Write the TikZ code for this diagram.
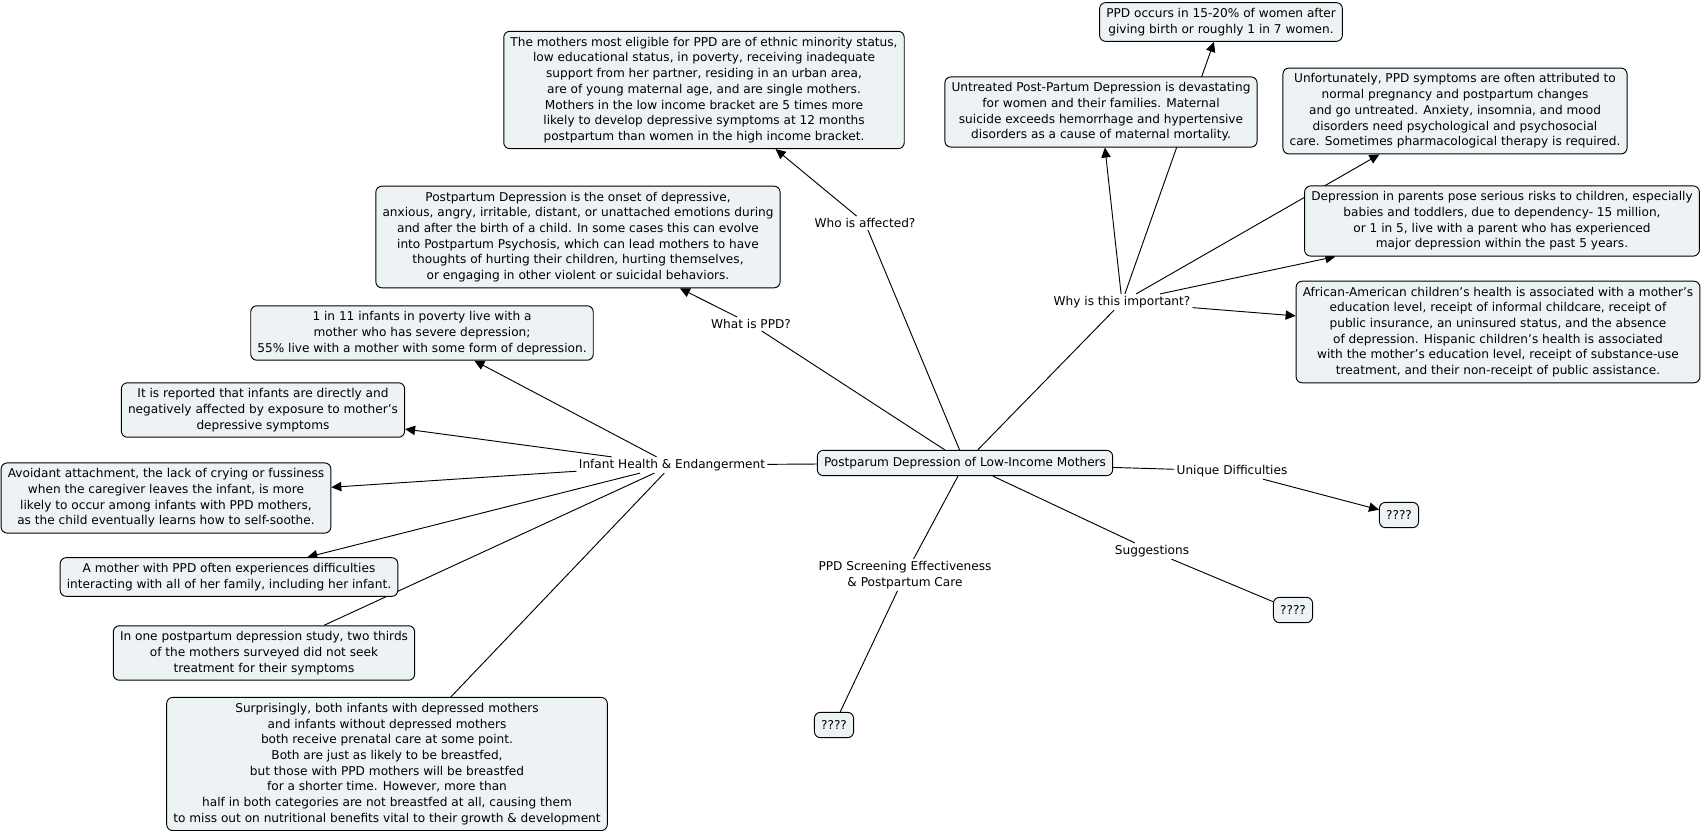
\documentclass[tikz,border=0pt]{standalone}
\usepackage{fontspec}
\setmainfont{DejaVu Sans}
\usepackage{xcolor}
\usetikzlibrary{arrows.meta,backgrounds}
\definecolor{cmapfill}{HTML}{EDF3F5}
\newcommand{\cmapfont}{\fontsize{9.1}{11.8}\selectfont}
\tikzset{
  concept/.style ={draw, rounded corners=4.5pt, fill=cmapfill, align=center, inner xsep=5pt, inner ysep=4.2pt, minimum height=19pt, font=\cmapfont, line width=0.7pt},
  linkph/.style  ={align=center, inner sep=1.5pt, font=\cmapfont},
  arr/.style     ={-{Triangle[length=7.5pt,width=7pt]}, line width=0.7pt},
  ln/.style      ={line width=0.7pt},
}
\begin{document}
\begin{tikzpicture}[x=0.75pt, y=-0.75pt]
  \useasboundingbox (0,0) rectangle (1704,831);
  \node[concept] (cent) at (965,463) {Postparum Depression of Low-Income Mothers};
  \node[concept] (elig) at (704,90) {The mothers most eligible for PPD are of ethnic minority status,\\low educational status, in poverty, receiving inadequate\\support from her partner, residing in an urban area,\\are of young maternal age, and are single mothers.\\Mothers in the low income bracket are 5 times more\\likely to develop depressive symptoms at 12 months\\postpartum than women in the high income bracket.};
  \node[concept] (defn) at (578,237) {Postpartum Depression is the onset of depressive,\\anxious, angry, irritable, distant, or unattached emotions during\\and after the birth of a child. In some cases this can evolve\\into Postpartum Psychosis, which can lead mothers to have\\thoughts of hurting their children, hurting themselves,\\or engaging in other violent or suicidal behaviors.};
  \node[concept] (occurs) at (1221,22) {PPD occurs in 15-20\% of women after\\giving birth or roughly 1 in 7 women.};
  \node[concept] (untreated) at (1101,112) {Untreated Post-Partum Depression is devastating\\for women and their families. Maternal\\suicide exceeds hemorrhage and hypertensive\\disorders as a cause of maternal mortality.};
  \node[concept] (unfort) at (1455,111) {Unfortunately, PPD symptoms are often attributed to\\normal pregnancy and postpartum changes\\and go untreated. Anxiety, insomnia, and mood\\disorders need psychological and psychosocial\\care. Sometimes pharmacological therapy is required.};
  \node[concept] (parents) at (1502,221) {Depression in parents pose serious risks to children, especially\\babies and toddlers, due to dependency- 15 million,\\or 1 in 5, live with a parent who has experienced\\major depression within the past 5 years.};
  \node[concept] (african) at (1498,332) {African-American children’s health is associated with a mother’s\\education level, receipt of informal childcare, receipt of\\public insurance, an uninsured status, and the absence\\of depression.  Hispanic children’s health is associated\\with the mother’s education level, receipt of substance-use\\treatment, and their non-receipt of public assistance.};
  \node[concept] (oneeleven) at (422,333) {1 in 11 infants in poverty live with a\\mother who has severe depression;\\55\% live with a mother with some form of depression.};
  \node[concept] (reported) at (263,410) {It is reported that infants are directly and\\negatively affected by exposure to mother’s\\depressive symptoms};
  \node[concept] (avoidant) at (166,498) {Avoidant attachment, the lack of crying or fussiness\\when the caregiver leaves the infant, is more\\likely to occur among infants with PPD mothers,\\as the child eventually learns how to self-soothe.};
  \node[concept] (family) at (229,577) {A mother with PPD often experiences difficulties\\interacting with all of her family, including her infant.};
  \node[concept] (study) at (264,653) {In one postpartum depression study, two thirds\\of the mothers surveyed did not seek\\treatment for their symptoms};
  \node[concept] (surpr) at (387,764) {Surprisingly, both infants with depressed mothers\\and infants without depressed mothers\\both receive prenatal care at some point.\\Both are just as likely to be breastfed,\\but those with PPD mothers will be breastfed\\for a shorter time. However, more than\\half in both categories are not breastfed at all, causing them\\to miss out on nutritional benefits vital to their growth \& development};
  \node[concept] (qunique) at (1399,515) {????};
  \node[concept] (qsugg) at (1293,610) {????};
  \node[concept] (qscreen) at (834,725) {????};
  \node[linkph] (who) at (865,223) {Who is affected?};
  \node[linkph] (whatis) at (751,324) {What is PPD?};
  \node[linkph] (why) at (1122,302) {Why is this important?};
  \node[linkph] (infant) at (672,465) {Infant Health \& Endangerment};
  \node[linkph] (unique) at (1232,471) {Unique Difficulties};
  \node[linkph] (sugg) at (1152,551) {Suggestions};
  \node[linkph] (screen) at (905,575) {PPD Screening Effectiveness\\\& Postpartum Care};
  \begin{scope}[on background layer]
    \draw[ln] (cent) -- (who);
    \draw[arr] (who) -- (elig);
    \draw[ln] (cent) -- (whatis);
    \draw[arr] (whatis) -- (defn);
    \draw[ln] (cent) -- (why);
    \draw[arr] (why) -- (untreated);
    \draw[arr] (why) -- (occurs);
    \draw[arr] (why) -- (unfort);
    \draw[arr] (why) -- (parents);
    \draw[arr] (why) -- (african);
    \draw[ln] (cent) -- (infant);
    \draw[arr] (infant) -- (oneeleven);
    \draw[arr] (infant) -- (reported);
    \draw[arr] (infant) -- (avoidant);
    \draw[arr] (infant) -- (family);
    \draw[ln] (infant) -- (study);
    \draw[ln] (infant) -- (surpr);
    \draw[ln] (cent) -- (unique);
    \draw[arr] (unique) -- (qunique);
    \draw[ln] (cent) -- (sugg);
    \draw[ln] (sugg) -- (qsugg);
    \draw[ln] (cent) -- (screen);
    \draw[ln] (screen) -- (qscreen);
  \end{scope}
\end{tikzpicture}
\end{document}
